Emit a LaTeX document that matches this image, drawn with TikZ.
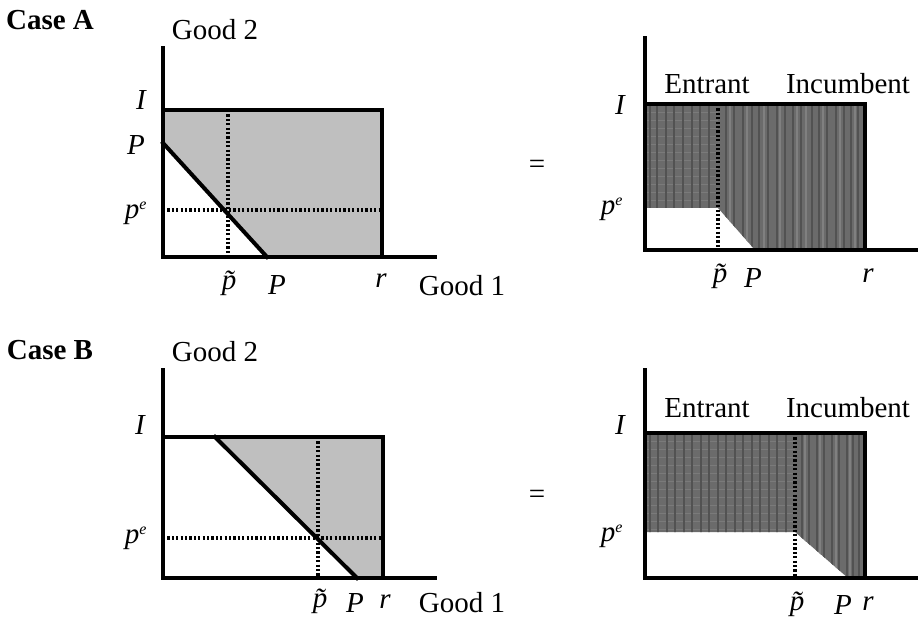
\documentclass[tikz,border=0pt]{standalone}
\usepackage{fontspec}
\setmainfont{Liberation Serif}
\begin{document}
\begin{tikzpicture}[x=1pt,y=-1pt,
  lbl/.style={font=\fontsize{29}{34}\selectfont, inner sep=0pt, anchor=center},
  mlbl/.style={font=\fontsize{29}{34}\selectfont\itshape, inner sep=0pt, anchor=center},
  hdr/.style={font=\fontsize{29}{34}\selectfont\bfseries, inner sep=0pt, anchor=center},
  axisline/.style={line width=4pt, line cap=rect},
  boxline/.style={line width=3.5pt},
  dotline/.style={line width=3.2pt, dash pattern=on 2.2pt off 2.2pt},
  lightfill/.style={fill=black!25},
  darkbase/.style={fill=black!58},
  stripe/.style={draw=black!68, line width=1.4pt},
  lstripe/.style={draw=black!50, line width=1.2pt},
  hstripe/.style={draw=black!52, line width=0.6pt}]
\useasboundingbox (0,0) rectangle (918,620);

% ================= Case A, left =================
\coordinate (aO) at (163,257);
\coordinate (aYtop) at (163,48);
\coordinate (aXend) at (435,257);
\coordinate (aTL) at (163,110);
\coordinate (aTR) at (382,110);
\coordinate (aBR) at (382,257);
\coordinate (aP) at (163,143);
\coordinate (aPx) at (267,257);
\coordinate (aPtT) at (228,110);
\coordinate (aPtB) at (228,257);
\coordinate (aPeR) at (382,210);
\coordinate (aPeL) at (163,210);
\path[lightfill] (aTL) -- (aTR) -- (aBR) -- (aPx) -- (aP) -- cycle;
\draw[dotline] (aPtT) -- (aPtB);
\draw[dotline] (aPeL) -- (aPeR);
\draw[boxline] (aTL) -- (aTR) -- (aBR);
\draw[axisline] (aP) -- (aPx);
\draw[axisline] (aYtop) -- (aO) -- (aXend);

\node[hdr] (caseA) at (50,20) {Case A};
\node[lbl] (aG2) at (215,30) {Good 2};
\node[mlbl] (aI) at (141,100) {I};
\node[mlbl] (aPl) at (136,145) {P};
\node[mlbl] (aPe) at (136,213) {p\textsuperscript{\fontsize{16}{16}\selectfont e}};
\node[mlbl] (aPt) at (229,283) {\~{p}};
\node[mlbl] (aPb) at (277,285) {P};
\node[mlbl] (ar) at (381,281) {r};
\node[lbl] (aG1) at (462,286) {Good 1};

% ================= Case A, right =================
\coordinate (rO) at (645,250);
\coordinate (rYtop) at (645,38);
\coordinate (rXend) at (918,250);
\coordinate (rTL) at (645,104);
\coordinate (rTR) at (865,104);
\coordinate (rBR) at (865,250);
\coordinate (rCut) at (755,250);
\coordinate (rKnee) at (718,208);
\coordinate (rPeL) at (645,208);
\coordinate (rDT) at (718,104);
\coordinate (rDB) at (718,250);
\begin{scope}
  \clip (rTL) -- (rTR) -- (rBR) -- (rCut) -- (rKnee) -- (rPeL) -- cycle;
  \path[darkbase] (645,100) rectangle (866,251);
  \foreach \y in {112,120,128,136,144,152,160,168,176,184,192,200} {
    \path[hstripe] (645,\y) -- (718,\y);
  }
  \foreach \x in {650,657,666,674,683,692,700,709} {
    \path[stripe] (\x,100) -- (\x,251);
  }
  \foreach \x in {726,734,743,752,759,768,777,785,793,801,812,819,827,836,844,851,858} {
    \path[stripe] (\x,100) -- (\x,251);
  }
  \foreach \x in {730,747,764,780,797,806,823,840,855} {
    \path[lstripe] (\x,100) -- (\x,251);
  }
\end{scope}
\draw[dotline] (rDT) -- (rDB);
\draw[boxline] (rTL) -- (rTR) -- (rBR);
\draw[axisline] (rYtop) -- (rO) -- (rXend);

\node[lbl] (eqA) at (537,167) {=};
\node[mlbl] (rI) at (620,105) {I};
\node[mlbl] (rPe) at (612,209) {p\textsuperscript{\fontsize{16}{16}\selectfont e}};
\node[lbl] (rEnt) at (707,84) {Entrant};
\node[lbl] (rInc) at (848,84) {Incumbent};
\node[mlbl] (rPt) at (720,276) {\~{p}};
\node[mlbl] (rPb) at (753,278) {P};
\node[mlbl] (rr) at (868,276) {r};

% ================= Case B, left =================
\coordinate (bO) at (163,578);
\coordinate (bYtop) at (163,370);
\coordinate (bXend) at (435,578);
\coordinate (bTL) at (163,437);
\coordinate (bTR) at (383,437);
\coordinate (bBR) at (383,578);
\coordinate (bD1) at (215,437);
\coordinate (bD2) at (357,578);
\coordinate (bPtT) at (318,437);
\coordinate (bPtB) at (318,578);
\coordinate (bPeL) at (163,538);
\coordinate (bPeR) at (383,538);
\path[lightfill] (bD1) -- (bTR) -- (bBR) -- (bD2) -- cycle;
\draw[dotline] (bPtT) -- (bPtB);
\draw[dotline] (bPeL) -- (bPeR);
\draw[boxline] (bTL) -- (bTR) -- (bBR);
\draw[axisline] (bD1) -- (bD2);
\draw[axisline] (bYtop) -- (bO) -- (bXend);

\node[hdr] (caseB) at (50,350) {Case B};
\node[lbl] (bG2) at (215,352) {Good 2};
\node[mlbl] (bI) at (140,425) {I};
\node[mlbl] (bPe) at (136,538) {p\textsuperscript{\fontsize{16}{16}\selectfont e}};
\node[mlbl] (bPt) at (320,601) {\~{p}};
\node[mlbl] (bPb) at (355,603) {P};
\node[mlbl] (br) at (385,602) {r};
\node[lbl] (bG1) at (462,603) {Good 1};

% ================= Case B, right =================
\coordinate (sO) at (645,578);
\coordinate (sYtop) at (645,370);
\coordinate (sXend) at (918,578);
\coordinate (sTL) at (645,433);
\coordinate (sTR) at (865,433);
\coordinate (sBR) at (865,578);
\coordinate (sCut) at (848,578);
\coordinate (sKnee) at (795,532);
\coordinate (sPeL) at (645,532);
\coordinate (sDT) at (795,433);
\coordinate (sDB) at (795,578);
\begin{scope}
  \clip (sTL) -- (sTR) -- (sBR) -- (sCut) -- (sKnee) -- (sPeL) -- cycle;
  \path[darkbase] (645,430) rectangle (866,579);
  \foreach \y in {441,449,457,465,473,481,489,497,505,513,521,529} {
    \path[hstripe] (645,\y) -- (795,\y);
  }
  \foreach \x in {650,658,667,675,684,692,701,709,718,726,735,743,752,760,769,777,786} {
    \path[stripe] (\x,430) -- (\x,579);
  }
  \foreach \x in {802,809,817,824,832,839,847,853,859} {
    \path[stripe] (\x,430) -- (\x,579);
  }
  \foreach \x in {805,820,836,850} {
    \path[lstripe] (\x,430) -- (\x,579);
  }
\end{scope}
\draw[dotline] (sDT) -- (sDB);
\draw[boxline] (sTL) -- (sTR) -- (sBR);
\draw[axisline] (sYtop) -- (sO) -- (sXend);

\node[lbl] (eqB) at (537,497) {=};
\node[mlbl] (sI) at (620,425) {I};
\node[mlbl] (sPe) at (612,536) {p\textsuperscript{\fontsize{16}{16}\selectfont e}};
\node[lbl] (sEnt) at (707,408) {Entrant};
\node[lbl] (sInc) at (848,408) {Incumbent};
\node[mlbl] (sPt) at (797,604) {\~{p}};
\node[mlbl] (sPb) at (843,605) {P};
\node[mlbl] (sr) at (868,604) {r};
\end{tikzpicture}
\end{document}
